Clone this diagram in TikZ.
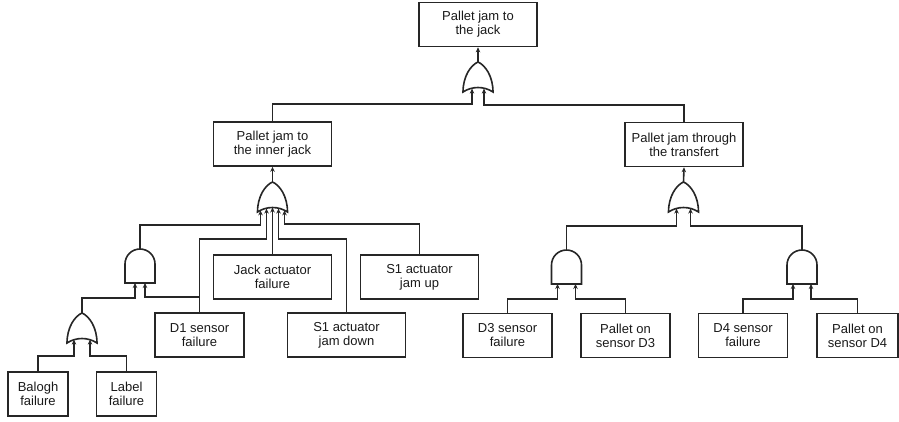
\documentclass[tikz,border=0pt]{standalone}
\usepackage{fontspec}
\setmainfont{Liberation Sans}
\usetikzlibrary{positioning,arrows.meta}

% gates: name, x, y of bottom centre, input offset
\newcommand{\orgate}[4]{%
  \draw[gateline] (#2-15,#3) .. controls (#2-15,#3-16) and (#2-7,#3-27) .. (#2,#3-30)
    .. controls (#2+7,#3-27) and (#2+15,#3-16) .. (#2+15,#3)
    .. controls (#2+6,#3-6) and (#2-6,#3-6) .. cycle;
  \coordinate (#1-top) at (#2,#3-30);
  \coordinate (#1-l) at (#2-#4,#3-3.4);
  \coordinate (#1-r) at (#2+#4,#3-3.4);
}
\newcommand{\andgate}[4]{%
  \draw[gateline] (#2-15,#3) -- (#2-15,#3-19) .. controls (#2-15,#3-27.3) and (#2-8.3,#3-34) .. (#2,#3-34)
    .. controls (#2+8.3,#3-34) and (#2+15,#3-27.3) .. (#2+15,#3-19) -- (#2+15,#3) -- cycle;
  \coordinate (#1-top) at (#2,#3-34);
  \coordinate (#1-l) at (#2-#4,#3);
  \coordinate (#1-r) at (#2+#4,#3);
}

\begin{document}
\begin{tikzpicture}[x=1pt,y=-1pt,
  ev/.style={draw=black!85,line width=1.6pt,align=center,minimum height=44pt,inner sep=1pt,
    text=black!90,font=\fontsize{13}{14}\selectfont},
  wide/.style={ev,minimum width=118pt},
  mid/.style={ev,minimum width=89pt},
  small/.style={ev,minimum width=60pt},
  gateline/.style={draw=black!85,line width=1.6pt},
  arr/.style={draw=black!85,line width=1.6pt,-{Stealth[length=5pt,width=4.5pt]}}]
\useasboundingbox (0,0) rectangle (899,421);

% events
\node[wide] (top) at (478,24.5) {Pallet jam to\\the jack};
\node[wide] (inner) at (272.5,144) {Pallet jam to\\the inner jack};
\node[wide] (transf) at (684,144.5) {Pallet jam through\\the transfert};
\node[wide] (jack) at (272.5,277) {Jack actuator\\failure};
\node[wide] (s1up) at (419.5,277) {S1 actuator\\jam up};
\node[mid] (d1) at (199.5,335) {D1 sensor\\failure};
\node[wide] (s1down) at (346.5,335) {S1 actuator\\jam down};
\node[small] (balogh) at (38,394) {Balogh\\failure};
\node[small] (label) at (126.5,394) {Label\\failure};
\node[mid] (d3) at (507.5,335.5) {D3 sensor\\failure};
\node[mid] (pd3) at (625.5,335.5) {Pallet on\\sensor D3};
\node[mid] (d4) at (743,335.5) {D4 sensor\\failure};
\node[ev,minimum width=81pt] (pd4) at (857.5,335.5) {Pallet on\\sensor D4};

% gates
\orgate{or1}{478}{92}{6}
\orgate{or0}{272.5}{212}{6}
\coordinate (or0-a) at (260.5,210.4);
\coordinate (or0-c) at (272.5,207.5);
\coordinate (or0-e) at (284.5,210.4);
\orgate{or2}{683.5}{212}{7}
\orgate{or3}{82}{343}{8}
\andgate{and1}{140}{283}{5}
\andgate{and2}{566.5}{284}{9}
\andgate{and3}{802}{284}{9}

% top
\draw[arr] (or1-top) -- (top.south);
\draw[arr] (inner.north) -- ++(0,-17) -| (or1-l);
\draw[arr] (transf.north) -- ++(0,-17) -| (or1-r);

% inner jack
\draw[arr] (or0-top) -- (inner.south);
\draw[arr] (and1-top) -- ++(0,-24) -| (or0-a);
\draw[arr] (d1.north) -- ++(0,-73) -| (or0-l);
\draw[arr] (jack.north) -- (or0-c);
\draw[arr] (s1down.north) -- ++(0,-73) -| (or0-r);
\draw[arr] (s1up.north) -- ++(0,-30) -| (or0-e);
\draw[arr] (or3-top) -- ++(0,-15) -| (and1-l);
\draw[arr] (d1.north) -- ++(0,-15) -| (and1-r);
\draw[arr] (balogh.north) -- ++(0,-15) -| (or3-l);
\draw[arr] (label.north) -- ++(0,-15) -| (or3-r);

% transfert
\draw[arr] (or2-top) -- (transf.south);
\draw[arr] (and2-top) -- ++(0,-24) -| (or2-l);
\draw[arr] (and3-top) -- ++(0,-24) -| (or2-r);
\draw[arr] (d3.north) -- ++(0,-14) -| (and2-l);
\draw[arr] (pd3.north) -- ++(0,-14) -| (and2-r);
\draw[arr] (d4.north) -- ++(0,-14) -| (and3-l);
\draw[arr] (pd4.north) -- ++(0,-14) -| (and3-r);
\end{tikzpicture}
\end{document}
